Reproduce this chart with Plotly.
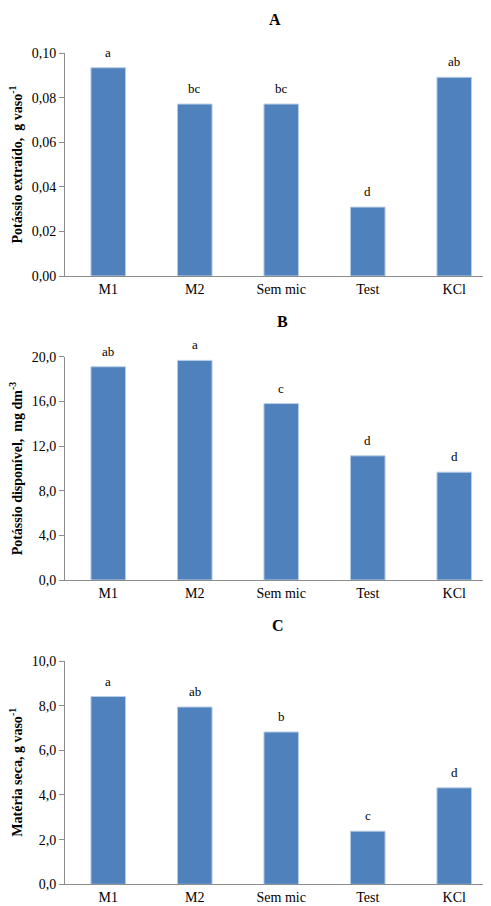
import plotly.graph_objects as go

categories = ["M1", "M2", "Sem mic", "Test", "KCl"]

k_extraido = [0.0934, 0.0771, 0.0771, 0.0309, 0.0891]
k_extraido_letters = ["a", "bc", "bc", "d", "ab"]

k_disponivel = [19.1, 19.67, 15.8, 11.12, 9.66]
k_disponivel_letters = ["ab", "a", "c", "d", "d"]

materia_seca = [8.41, 7.94, 6.82, 2.38, 4.32]
materia_seca_letters = ["a", "ab", "b", "c", "d"]

panel_titles = ["A", "B", "C"]
y_titles = ["Potássio extraído,  g vaso<sup>-1</sup>",
            "Potássio disponível,  mg dm<sup>-3</sup>",
            "Matéria seca, g vaso<sup>-1</sup>"]

OFF = 8  # page body margin
W, H = 491 - OFF, 906 - OFF
L = 65 - OFF
FONT = "Liberation Serif"
BAR = "#4F81BD"

# screen pixel layout (top, bottom) of each plot area
panels_px = [(53, 276), (356.7, 580), (661, 884.3)]
title_px = [(275, 19), (282, 321), (278, 625)]
ranges = [[0, 0.10], [0, 20.0], [0, 10.0]]
dticks = [0.02, 4.0, 2.0]
fmts = [".2f", ".1f", ".1f"]
series = [(k_extraido, k_extraido_letters), (k_disponivel, k_disponivel_letters),
          (materia_seca, materia_seca_letters)]


def py(y):
    return 1 - (y - OFF) / H


def px(x):
    return (x - OFF - L) / (W - L)


fig = go.Figure()
annotations = []
for i, (vals, letters) in enumerate(series):
    n = "" if i == 0 else str(i + 1)
    fig.add_trace(go.Bar(x=categories, y=vals, width=0.4,
                         marker=dict(color=BAR, line=dict(color="#B9CDE5", width=1)),
                         xaxis="x" + n, yaxis="y" + n, showlegend=False,
                         hoverinfo="skip"))
    for c, v, t in zip(categories, vals, letters):
        annotations.append(dict(x=c, y=v, xref="x" + n, yref="y" + n, text=t,
                                showarrow=False, yanchor="bottom", yshift=6,
                                font=dict(family=FONT, size=13, color="#000")))
    top, bot = panels_px[i]
    dom = [py(bot), py(top)]
    fig.layout["xaxis" + n] = dict(domain=[0, 1], anchor="y" + n,
                                   range=[-0.5, -0.5 + (W - L) / 86.5],
                                   showline=True, linecolor="#8C8C8C", linewidth=1,
                                   ticks="", showgrid=False, automargin=False,
                                   tickfont=dict(family=FONT, size=14, color="#000"),
                                   fixedrange=True)
    fig.layout["yaxis" + n] = dict(domain=dom, anchor="x" + n, range=ranges[i],
                                   dtick=dticks[i], tickformat=fmts[i],
                                   showline=True, linecolor="#8C8C8C", linewidth=1,
                                   ticks="outside", ticklen=5, tickcolor="#8C8C8C",
                                   showgrid=False, zeroline=False, automargin=False,
                                   tickfont=dict(family=FONT, size=14, color="#000"),
                                   fixedrange=True)
    tx, ty = title_px[i]
    annotations.append(dict(x=px(tx), y=py(ty), xref="paper", yref="paper",
                            text="<b>" + panel_titles[i] + "</b>", showarrow=False,
                            xanchor="center", yanchor="middle",
                            font=dict(family=FONT, size=16, color="#000")))
    annotations.append(dict(x=px(16), y=py((top + bot) / 2),
                            xref="paper", yref="paper",
                            text="<b>" + y_titles[i] + "</b>", showarrow=False,
                            textangle=-90, xanchor="center", yanchor="middle",
                            font=dict(family=FONT, size=14, color="#000")))

fig.update_layout(width=W, height=H, margin=dict(l=L, r=0, t=0, b=0),
                  paper_bgcolor="white", plot_bgcolor="white",
                  font=dict(family=FONT),
                  separators=",.", annotations=annotations, bargap=0.6)
fig.write_html("out.html", config={"displayModeBar": False})
